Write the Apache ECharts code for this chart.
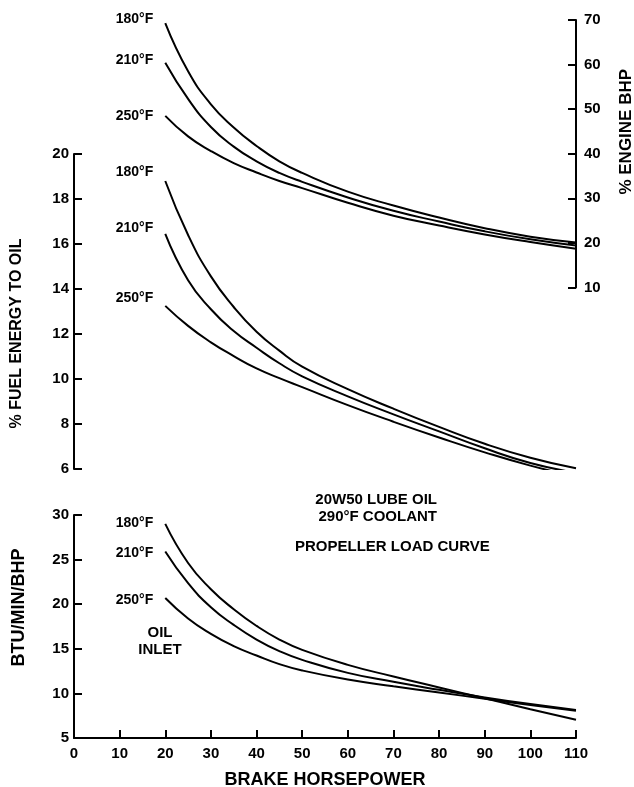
<!DOCTYPE html>
<html>
<head>
<meta charset="utf-8">
<script src="https://cdn.jsdelivr.net/npm/echarts@6/dist/echarts.min.js"></script>
<style>
  html, body { margin: 0; padding: 0; background: #fff; }
  #chart { width: 634px; height: 787px; }
</style>
</head>
<body>
<div id="chart"></div>
<script>
// brake horsepower sampled along the curves
const hp = [20, 25, 30, 35, 40, 45, 50, 60, 70, 80, 90, 100, 110];

// top panel: % engine BHP (right axis)
const bhp180 = [69.3, 58.5, 51.1, 45.9, 41.75, 38.3, 35.7, 31.5, 28.4, 25.7, 23.3, 21.4, 20.1];
const bhp210 = [60.4, 52.3, 46.0, 41.6, 38.3, 35.7, 33.7, 30.2, 27.2, 24.8, 22.6, 20.8, 19.4];
const bhp250 = [48.5, 43.9, 40.6, 37.9, 35.8, 33.9, 32.3, 29.0, 26.1, 23.9, 21.9, 20.2, 18.7];

// middle panel: % fuel energy to oil
const fuel180 = [18.8, 16.4, 14.56, 13.2, 12.1, 11.26, 10.55, 9.55, 8.68, 7.87, 7.12, 6.5, 6.03];
const fuel210 = [16.45, 14.39, 13.1, 12.13, 11.39, 10.7, 10.12, 9.23, 8.43, 7.67, 6.92, 6.27, 5.83];
const fuel250 = [13.25, 12.36, 11.63, 11.02, 10.47, 10.04, 9.64, 8.84, 8.1, 7.4, 6.74, 6.15, 5.66];

// bottom panel: BTU/min/BHP
const btu180 = [29.0, 24.62, 21.68, 19.44, 17.57, 16.04, 14.88, 13.2, 11.9, 10.67, 9.45, 8.22, 7.05];
const btu210 = [25.9, 22.35, 19.66, 17.68, 16.04, 14.74, 13.76, 12.3, 11.3, 10.4, 9.55, 8.8, 8.15];
const btu250 = [20.7, 18.4, 16.67, 15.3, 14.25, 13.28, 12.57, 11.55, 10.8, 10.1, 9.4, 8.7, 8.05];

const tempLabels = ['180°F', '210°F', '250°F'];

const FONT = 'Liberation Sans, Arial, Helvetica, sans-serif';
const black = '#000';

const axisLine = { show: true, onZero: false, lineStyle: { color: black, width: 2 } };
const axisTick = { show: true, inside: true, length: 8, lineStyle: { color: black, width: 2 } };
const tickLabel = (margin) => ({
  color: black, fontWeight: 'bold', fontSize: 15, fontFamily: FONT, margin
});
const nameStyle = (size, padding) => ({
  color: black, fontWeight: 'bold', fontSize: size, fontFamily: FONT, padding
});

// one curve, with its temperature written left of its first point
function curve(values, idx, label, dy) {
  return {
    type: 'line',
    xAxisIndex: idx,
    yAxisIndex: idx,
    smooth: 0.5,
    symbol: 'circle',
    symbolSize: 0,
    showSymbol: true,
    silent: true,
    lineStyle: { color: black, width: 2 },
    itemStyle: { color: black },
    data: hp.map((x, i) => {
      const pt = { value: [x, values[i]] };
      if (i === 0) {
        pt.label = {
          show: true, position: 'left', distance: 12, offset: [0, dy],
          formatter: label, color: black, fontWeight: 'bold', fontSize: 14, fontFamily: FONT
        };
      }
      return pt;
    })
  };
}

const chart = echarts.init(document.getElementById('chart'), null, { renderer: 'canvas' });

const hiddenX = (idx) => ({
  type: 'value', gridIndex: idx, min: 0, max: 110, show: false
});

chart.setOption({
  animation: false,
  backgroundColor: '#fff',
  grid: [
    { left: 74, right: 58, top: 20, height: 267.5, outerBoundsMode: 'none' },
    { left: 74, right: 58, top: 154, height: 315, outerBoundsMode: 'none' },
    { left: 74, right: 58, top: 515, height: 223, outerBoundsMode: 'none' }
  ],
  xAxis: [
    hiddenX(0),
    hiddenX(1),
    {
      type: 'value', gridIndex: 2, min: 0, max: 110, interval: 10,
      axisLine, axisTick, splitLine: { show: false },
      axisLabel: tickLabel(8),
      name: 'BRAKE HORSEPOWER', nameLocation: 'middle', nameGap: 33,
      nameTextStyle: nameStyle(18)
    }
  ],
  yAxis: [
    {
      type: 'value', gridIndex: 0, position: 'right', min: 10, max: 70, interval: 10,
      axisLine, axisTick, splitLine: { show: false },
      axisLabel: tickLabel(8),
      name: '% ENGINE BHP', nameLocation: 'middle', nameGap: 42,
      nameTextStyle: nameStyle(17, [0, 0, 0, 44])
    },
    {
      type: 'value', gridIndex: 1, position: 'left', min: 6, max: 20, interval: 2,
      axisLine, axisTick, splitLine: { show: false },
      axisLabel: tickLabel(5),
      name: '% FUEL ENERGY TO OIL', nameLocation: 'middle', nameGap: 49,
      nameTextStyle: nameStyle(16, [0, 44, 0, 0])
    },
    {
      type: 'value', gridIndex: 2, position: 'left', min: 5, max: 30, interval: 5,
      axisLine, axisTick, splitLine: { show: false },
      axisLabel: tickLabel(5),
      name: 'BTU/MIN/BHP', nameLocation: 'middle', nameGap: 46,
      nameTextStyle: nameStyle(18, [0, 0, 0, 38])
    }
  ],
  series: [
    curve(bhp180, 0, tempLabels[0], -4),
    curve(bhp210, 0, tempLabels[1], -3),
    curve(bhp250, 0, tempLabels[2], 0),
    curve(fuel180, 1, tempLabels[0], -9),
    curve(fuel210, 1, tempLabels[1], -6),
    curve(fuel250, 1, tempLabels[2], -8),
    curve(btu180, 2, tempLabels[0], -1),
    curve(btu210, 2, tempLabels[1], 2),
    curve(btu250, 2, tempLabels[2], 2)
  ],
  graphic: [
    {
      type: 'text', x: 437, y: 491,
      style: { text: '20W50 LUBE OIL\n290°F COOLANT', fill: black, font: 'bold 15px ' + FONT, lineHeight: 17, align: 'right', verticalAlign: 'top' }
    },
    {
      type: 'text', x: 295, y: 539,
      style: { text: 'PROPELLER LOAD CURVE', fill: black, font: 'bold 15px ' + FONT, verticalAlign: 'top' }
    },
    {
      type: 'text', x: 160, y: 624,
      style: { text: 'OIL\nINLET', fill: black, font: 'bold 15px ' + FONT, lineHeight: 17, align: 'center', verticalAlign: 'top' }
    }
  ]
});
</script>
</body>
</html>
